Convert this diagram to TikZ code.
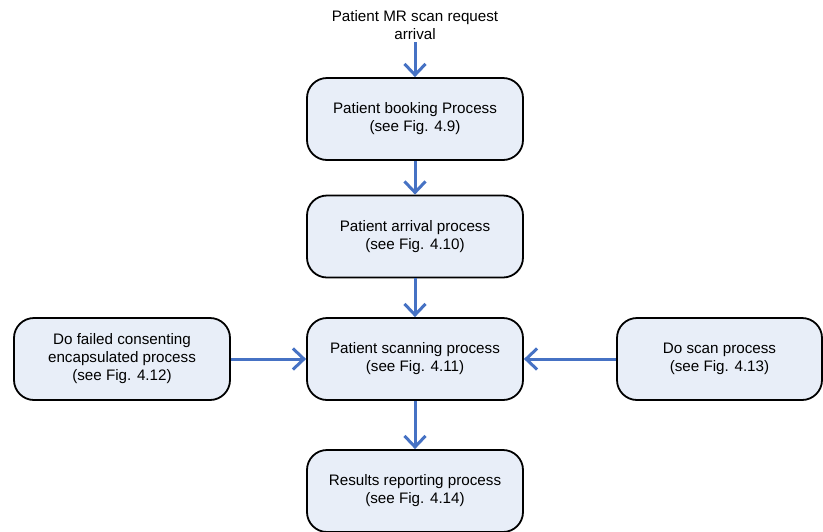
\documentclass[tikz,border=0pt]{standalone}
\usepackage{fontspec}
\setmainfont{Liberation Sans}
\usetikzlibrary{arrows.meta}
\definecolor{flowblue}{RGB}{70,114,196}
\definecolor{boxfill}{RGB}{232,238,248}
\begin{document}
\begin{tikzpicture}[x=1pt,y=-1pt,
  procbox/.style={draw=black, line width=1.8pt, fill=boxfill, rounded corners=20pt,
    minimum width=216pt, minimum height=82pt, align=center, inner sep=0pt,
    font=\fontsize{15.2}{18}\selectfont,
    execute at begin node={\rule{0pt}{15pt}}},
  flow/.style={draw=flowblue, line width=3pt,
    -{Straight Barb[length=11pt,width=21pt,line width=3pt]}}]
\useasboundingbox (0,0) rectangle (823,531);
\node[align=center, font=\fontsize{15.2}{18}\selectfont] (req) at (415,25)
  {Patient MR scan request\\arrival};
\node[procbox] (book) at (415,119) {Patient booking Process\\(see Fig. 4.9)};
\node[procbox] (arr) at (415,236.5) {Patient arrival process\\(see Fig. 4.10)};
\node[procbox] (scan) at (415,359) {Patient scanning process\\(see Fig. 4.11)};
\node[procbox] (res) at (415,491) {Results reporting process\\(see Fig. 4.14)};
\node[procbox] (fail) at (122,359) {Do failed consenting\\encapsulated process\\(see Fig. 4.12)};
\node[procbox, minimum width=205pt] (doscan) at (719.5,359) {Do scan process\\(see Fig. 4.13)};
\coordinate (reqend) at (415,42);
\draw[flow] (reqend) -- (book.north);
\draw[flow] (book) -- (arr);
\draw[flow] (arr) -- (scan);
\draw[flow] (scan) -- (res);
\draw[flow] (fail) -- (scan);
\draw[flow] (doscan) -- (scan);
\end{tikzpicture}
\end{document}
